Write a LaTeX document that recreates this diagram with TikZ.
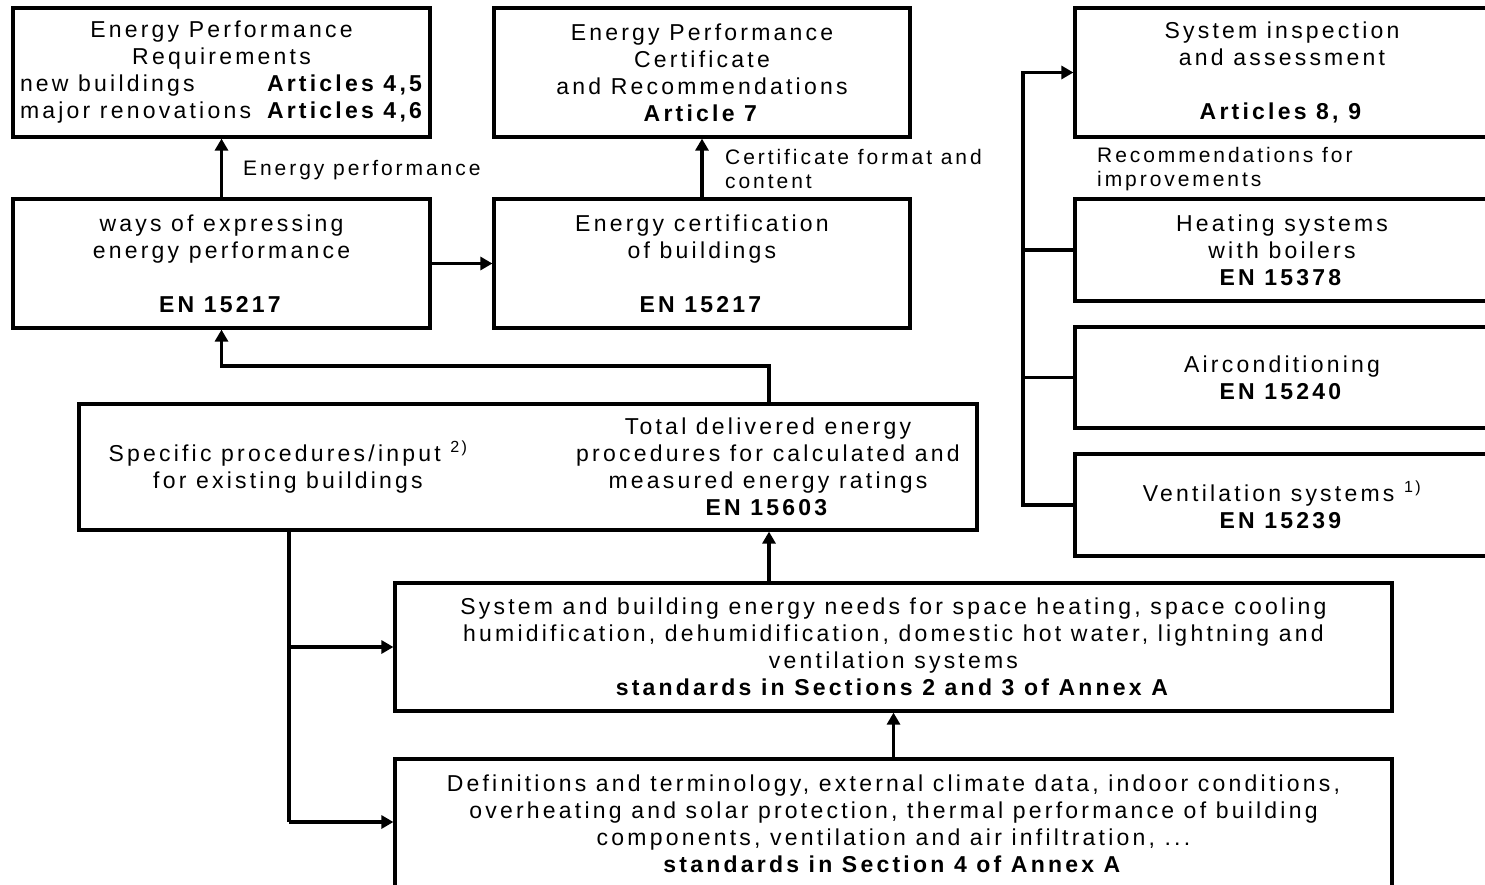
\documentclass[tikz,border=0pt]{standalone}
\usepackage{fontspec}
\setmainfont{Liberation Sans}[LetterSpace=14]
\usetikzlibrary{arrows.meta}
\newcommand{\fsmain}{\fontsize{23}{27}\selectfont}
\newcommand{\fslab}{\fontsize{21}{24}\selectfont}
\newcommand{\eprow}[2]{\hbox to 403pt{#1\hfill\hbox to 156pt{\textbf{#2}\hss}}}
\tikzset{
  box/.style={draw, line width=3.2pt, inner sep=0pt, align=center, font=\fsmain},
  txt/.style={inner sep=0pt, align=center, font=\fsmain},
  lab/.style={inner sep=0pt, align=left, anchor=west, font=\fslab},
  arr/.style={line width=3.2pt, -{Triangle[length=12pt,width=13pt]}},
  ln/.style={line width=3.2pt}
}
\begin{document}
\begin{tikzpicture}[x=1pt,y=-1pt]
\useasboundingbox (0,0) rectangle (1485,884);
\clip (0,0) rectangle (1485,884);
% top row
\node[box, minimum width=417pt, minimum height=129pt] (epr) at (221.5,72.5)
  {Energy Performance\\Requirements\\\eprow{new buildings}{Articles 4,5}\\\eprow{major renovations}{Articles 4,6}};
\node[box, minimum width=416pt, minimum height=129pt] (epc) at (702,72.5)
  {Energy Performance\\Certificate\\and Recommendations\\\textbf{Article 7}};
\node[box, minimum width=414pt, minimum height=129pt] (sia) at (1282,72.5)
  {System inspection\\and assessment\\[27pt]\textbf{Articles 8, 9}};
% second row
\node[box, minimum width=417pt, minimum height=129pt] (ways) at (221.5,263.5)
  {ways of expressing\\energy performance\\[27pt]\textbf{EN 15217}};
\node[box, minimum width=416pt, minimum height=129pt] (ec) at (702,263.5)
  {Energy certification\\of buildings\\[27pt]\textbf{EN 15217}};
\node[box, minimum width=414pt, minimum height=102pt] (heat) at (1282,250)
  {Heating systems\\with boilers\\\textbf{EN 15378}};
\node[box, minimum width=414pt, minimum height=101pt] (air) at (1282,377.5)
  {Airconditioning\\\textbf{EN 15240}};
\node[box, minimum width=414pt, minimum height=102pt] (vent) at (1282,505)
  {Ventilation systems \textsuperscript{1)}\\\textbf{EN 15239}};
% total box
\node[box, minimum width=898pt, minimum height=126pt] (total) at (528,467) {};
\node[txt] (spec) at (288,467) {Specific procedures/input \textsuperscript{2)}\\for existing buildings};
\node[txt] (tot) at (768,467) {Total delivered energy\\procedures for calculated and\\measured energy ratings\\\textbf{EN 15603}};
% lower boxes
\node[box, minimum width=997pt, minimum height=128pt] (sys) at (893.5,647)
  {System and building energy needs for space heating, space cooling\\humidification, dehumidification, domestic hot water, lightning and\\ventilation systems\\\textbf{standards in Sections 2 and 3 of Annex A}};
\node[box, minimum width=997pt, minimum height=129pt] (defs) at (893.5,823.5)
  {Definitions and terminology, external climate data, indoor conditions,\\overheating and solar protection, thermal performance of building\\components, ventilation and air infiltration, ...\\\textbf{standards in Section 4 of Annex A}};
% labels
\node[lab] (lep) at (243,170) {Energy performance};
\node[lab] (lcf) at (725,169) {Certificate format and\\content};
\node[lab] (lrec) at (1097,169) {Recommendations for\\improvements};
% coordinates
\coordinate (j1) at (769,366);
\coordinate (b1) at (289,822);
\coordinate (r1) at (1023,72.5);
% connectors
\draw[arr] (ways) -- (epr);
\draw[arr] (ec) -- (epc);
\draw[arr] (ways) -- (ec);
\draw[arr] (total.north -| j1) -- (j1) -| (ways.south);
\draw[arr] (sys.north -| j1) -- (total.south -| j1);
\draw[arr] (defs) -- (sys);
\draw[ln] (total.south -| b1) -- (b1);
\draw[arr] (b1) -- (defs.west |- b1);
\draw[arr] (sys.west -| b1) -- (sys.west);
\draw[arr] (vent.west) -| (r1) -- (sia.west);
\draw[ln] (heat.west -| r1) -- (heat.west);
\draw[ln] (air.west -| r1) -- (air.west);
\end{tikzpicture}
\end{document}
